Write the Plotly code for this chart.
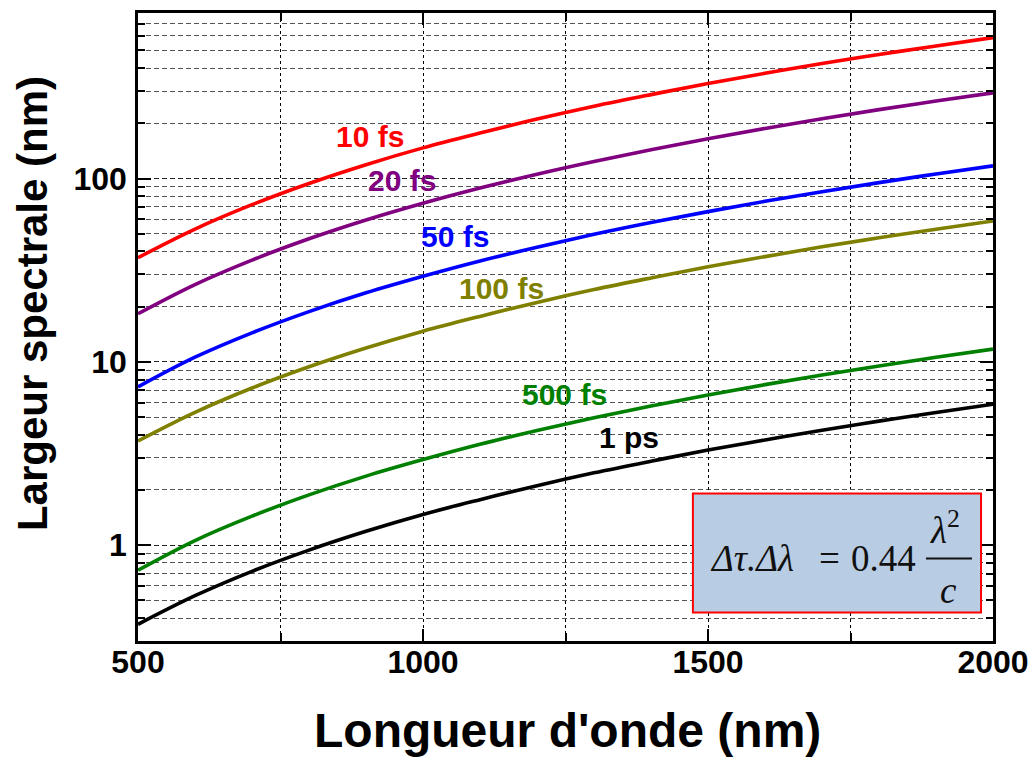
import plotly.graph_objects as go

# Wavelengths (nm)
wavelength = [500, 600, 700, 800, 900, 1000, 1100, 1200, 1300, 1400, 1500, 1600, 1700, 1800, 1900, 2000]

# Spectral widths (nm)
w_10fs = [37, 53, 72, 94, 119, 147, 177, 211, 248, 287, 330, 375, 424, 475, 529, 587]
w_20fs = [18.3, 26.4, 35.9, 46.9, 59.4, 73.3, 88.7, 105.6, 123.9, 143.7, 165, 187.7, 211.9, 237.6, 264.7, 293.3]
w_50fs = [7.3, 10.6, 14.4, 18.8, 23.8, 29.3, 35.5, 42.2, 49.6, 57.5, 66, 75.1, 84.8, 95, 105.9, 117.3]
w_100fs = [3.7, 5.3, 7.2, 9.4, 11.9, 14.7, 17.7, 21.1, 24.8, 28.7, 33, 37.5, 42.4, 47.5, 52.9, 58.7]
w_500fs = [0.73, 1.06, 1.44, 1.88, 2.38, 2.93, 3.55, 4.22, 4.96, 5.75, 6.6, 7.51, 8.48, 9.5, 10.59, 11.73]
w_1ps = [0.37, 0.53, 0.72, 0.94, 1.19, 1.47, 1.77, 2.11, 2.48, 2.87, 3.3, 3.75, 4.24, 4.75, 5.29, 5.87]

series_names = ["10 fs", "20 fs", "50 fs", "100 fs", "500 fs", "1 ps"]
series_values = [w_10fs, w_20fs, w_50fs, w_100fs, w_500fs, w_1ps]
series_colors = ["#FF0000", "#800080", "#0000FF", "#808000", "#008000", "#000000"]

x_tickvals = [500, 1000, 1500, 2000]
x_minorvals = [750, 1250, 1750]
y_tickvals = [1, 10, 100]
y_ticktext = ["1", "10", "100"]
y_minorvals = [0.3, 0.4, 0.5, 0.6, 0.7, 0.8, 0.9,
               2, 3, 4, 5, 6, 7, 8, 9,
               20, 30, 40, 50, 60, 70, 80, 90,
               200, 300, 400, 500, 600, 700, 800]

x_title = "Longueur d'onde (nm)"
y_title = "Largeur spectrale (nm)"

# label positions (paper coords)
label_pos = [(0.2713, 0.804), (0.3088, 0.7339), (0.3708, 0.6446),
             (0.4257, 0.5618), (0.4994, 0.3928), (0.5743, 0.3245)]

FONT = "Liberation Sans, Arial, sans-serif"
SERIF = "Liberation Serif, Times New Roman, serif"

fig = go.Figure()
for name, vals, col in zip(series_names, series_values, series_colors):
    fig.add_trace(go.Scatter(x=wavelength, y=vals, mode="lines", name=name,
                             line=dict(color=col, width=3.6, shape="spline"),
                             showlegend=False))

annotations = []
for name, col, (px, py) in zip(series_names, series_colors, label_pos):
    annotations.append(dict(x=px, y=py, xref="paper", yref="paper", text=f"<b>{name}</b>",
                            showarrow=False, xanchor="center", yanchor="middle",
                            font=dict(family=FONT, size=30, color=col)))

# axis titles
annotations += [
    dict(x=0.502, y=-0.1426, xref="paper", yref="paper", text=f"<b>{x_title}</b>",
         showarrow=False, xanchor="center", yanchor="middle",
         font=dict(family=FONT, size=48, color="black")),
    dict(x=-0.124, y=0.538, xref="paper", yref="paper", text=f"<b>{y_title}</b>",
         showarrow=False, xanchor="center", yanchor="middle", textangle=-90,
         font=dict(family=FONT, size=42, color="black")),
]

# equation
eq_font = dict(family=SERIF, size=37, color="#111111")
annotations += [
    dict(x=0.7181, y=0.1315, xref="paper", yref="paper", text="<i>Δτ.Δλ</i>", showarrow=False,
         xanchor="center", yanchor="middle", font=eq_font),
    dict(x=0.8082, y=0.1315, xref="paper", yref="paper", text="=", showarrow=False,
         xanchor="center", yanchor="middle", font=eq_font),
    dict(x=0.8725, y=0.1315, xref="paper", yref="paper", text="0.44", showarrow=False,
         xanchor="center", yanchor="middle", font=eq_font),
    dict(x=0.9439, y=0.1809, xref="paper", yref="paper", text="<i>λ</i><sup>2</sup>", showarrow=False,
         xanchor="center", yanchor="middle", font=eq_font),
    dict(x=0.9474, y=0.0805, xref="paper", yref="paper", text="<i>c</i>", showarrow=False,
         xanchor="center", yanchor="middle", font=eq_font),
]

shapes = [
    dict(type="rect", xref="paper", yref="paper", x0=0.649, x1=0.986, y0=0.0454, y1=0.235,
         fillcolor="#B8CCE4", line=dict(color="#FF0000", width=2), layer="above"),
    dict(type="line", xref="paper", yref="paper", x0=0.9216, x1=0.9754, y0=0.1315, y1=0.1315,
         line=dict(color="#111111", width=2), layer="above"),
]

fig.update_layout(
    width=1033, height=761,
    margin=dict(l=138, r=40, t=13, b=120),
    paper_bgcolor="white", plot_bgcolor="white",
    annotations=annotations, shapes=shapes,
    font=dict(family=FONT, color="black"),
)

fig.update_xaxes(
    range=[500, 2000],
    tickmode="array", tickvals=x_tickvals,
    ticks="inside", ticklen=12, tickwidth=2, tickcolor="black",
    tickfont=dict(family=FONT, size=32, color="black", weight="bold"),
    ticklabelstandoff=-9,
    showline=True, linewidth=2.5, linecolor="black", mirror="allticks",
    showgrid=True, gridcolor="black", gridwidth=1, griddash="3px,3px",
    minor=dict(tickmode="array", tickvals=x_minorvals, ticks="inside", ticklen=8, tickwidth=2,
               tickcolor="black", showgrid=True, gridcolor="black", gridwidth=1, griddash="3px,3px"),
    zeroline=False,
    automargin=False,
)

fig.update_yaxes(
    type="log", range=[-0.5229, 2.9031],
    tickmode="array", tickvals=y_tickvals, ticktext=y_ticktext,
    ticks="inside", ticklen=13, tickwidth=2, tickcolor="black",
    tickfont=dict(family=FONT, size=32, color="black", weight="bold"),
    ticklabelstandoff=2,
    showline=True, linewidth=2.5, linecolor="black", mirror="allticks",
    showgrid=True, gridcolor="#222222", gridwidth=1, griddash="5px,3px",
    minor=dict(tickmode="array", tickvals=y_minorvals, ticks="inside", ticklen=7, tickwidth=2,
               tickcolor="black", showgrid=True, gridcolor="#555555", gridwidth=1, griddash="5px,3px"),
    zeroline=False,
    automargin=False,
)

fig.write_html("out.html")
